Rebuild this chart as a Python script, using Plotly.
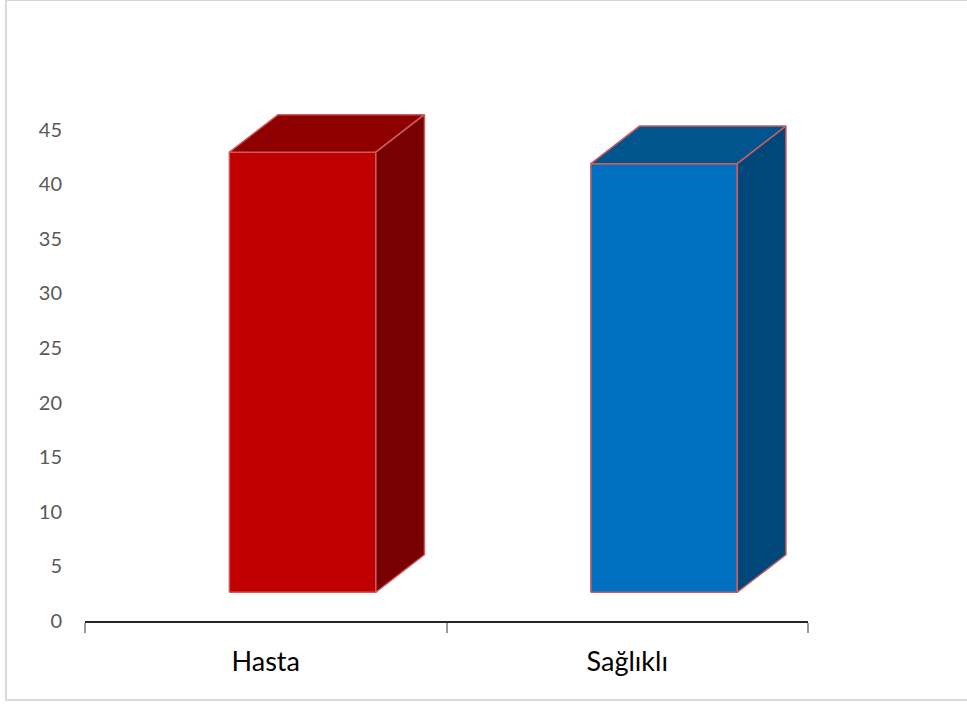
import plotly.graph_objects as go

# Data
categories = ["Hasta", "Sağlıklı"]
values = [40.3, 39.25]
front_colors = ["#C00000", "#0070C0"]
top_colors = ["#8E0000", "#00558F"]
side_colors = ["#780000", "#00477A"]
y_ticks = [0, 5, 10, 15, 20, 25, 30, 35, 40, 45]

# 3D box geometry (in axis units)
half_w = 0.2026      # half width of the front face
inset_dx = 0.1019    # horizontal shift of the bar's front face from the floor front edge
inset_dy = 2.63      # vertical shift of the bar's front face from the floor front edge
depth_dx = 0.1345    # horizontal extent of the bar depth
depth_dy = 3.44      # vertical extent of the bar depth
edge = dict(color="#CD5C5C", width=1.5)

fig = go.Figure()

for i, (cat, v) in enumerate(zip(categories, values)):
    cx = i + inset_dx
    xl, xr = cx - half_w, cx + half_w
    yb, yt = inset_dy, inset_dy + v
    # front face
    fig.add_trace(go.Scatter(
        x=[xl, xr, xr, xl, xl], y=[yb, yb, yt, yt, yb],
        fill="toself", fillcolor=front_colors[i], line=edge,
        mode="lines", hoverinfo="skip", showlegend=False))
    # top face
    fig.add_trace(go.Scatter(
        x=[xl, xr, xr + depth_dx, xl + depth_dx, xl],
        y=[yt, yt, yt + depth_dy, yt + depth_dy, yt],
        fill="toself", fillcolor=top_colors[i], line=edge,
        mode="lines", hoverinfo="skip", showlegend=False))
    # side face
    fig.add_trace(go.Scatter(
        x=[xr, xr + depth_dx, xr + depth_dx, xr, xr],
        y=[yb, yb + depth_dy, yt + depth_dy, yt, yb],
        fill="toself", fillcolor=side_colors[i], line=edge,
        mode="lines", hoverinfo="skip", showlegend=False))

fig.update_layout(
    width=967, height=709,
    margin=dict(l=85, r=159, t=75, b=88),
    paper_bgcolor="white", plot_bgcolor="white",
    font=dict(family="Lato, 'Open Sans', sans-serif"),
    xaxis=dict(
        range=[-0.5, 1.5], tickmode="array", tickvals=[0, 1], ticktext=categories,
        ticks="", showgrid=False, zeroline=False,
        showline=True, linecolor="#262626", linewidth=2,
        tickfont=dict(size=27, color="#000000"), ticklabelstandoff=16,
        minor=dict(tickmode="array", tickvals=[-0.5, 0.5, 1.5], ticks="outside",
                   ticklen=10, tickcolor="#9A9A9A", tickwidth=2, showgrid=False),
        fixedrange=True,
    ),
    yaxis=dict(
        range=[0, 50], tickmode="array", tickvals=y_ticks,
        ticks="", showgrid=False, zeroline=False, showline=False,
        tickfont=dict(size=20, color="#595959"), ticklabelstandoff=22,
        fixedrange=True,
    ),
    shapes=[dict(type="rect", xref="paper", yref="paper",
                 x0=-0.1093, x1=1.2213, y0=-0.1447, y1=1.1374,
                 line=dict(color="#D9D9D9", width=2), fillcolor="rgba(0,0,0,0)",
                 layer="below")],
)

fig.write_html("out.html")
